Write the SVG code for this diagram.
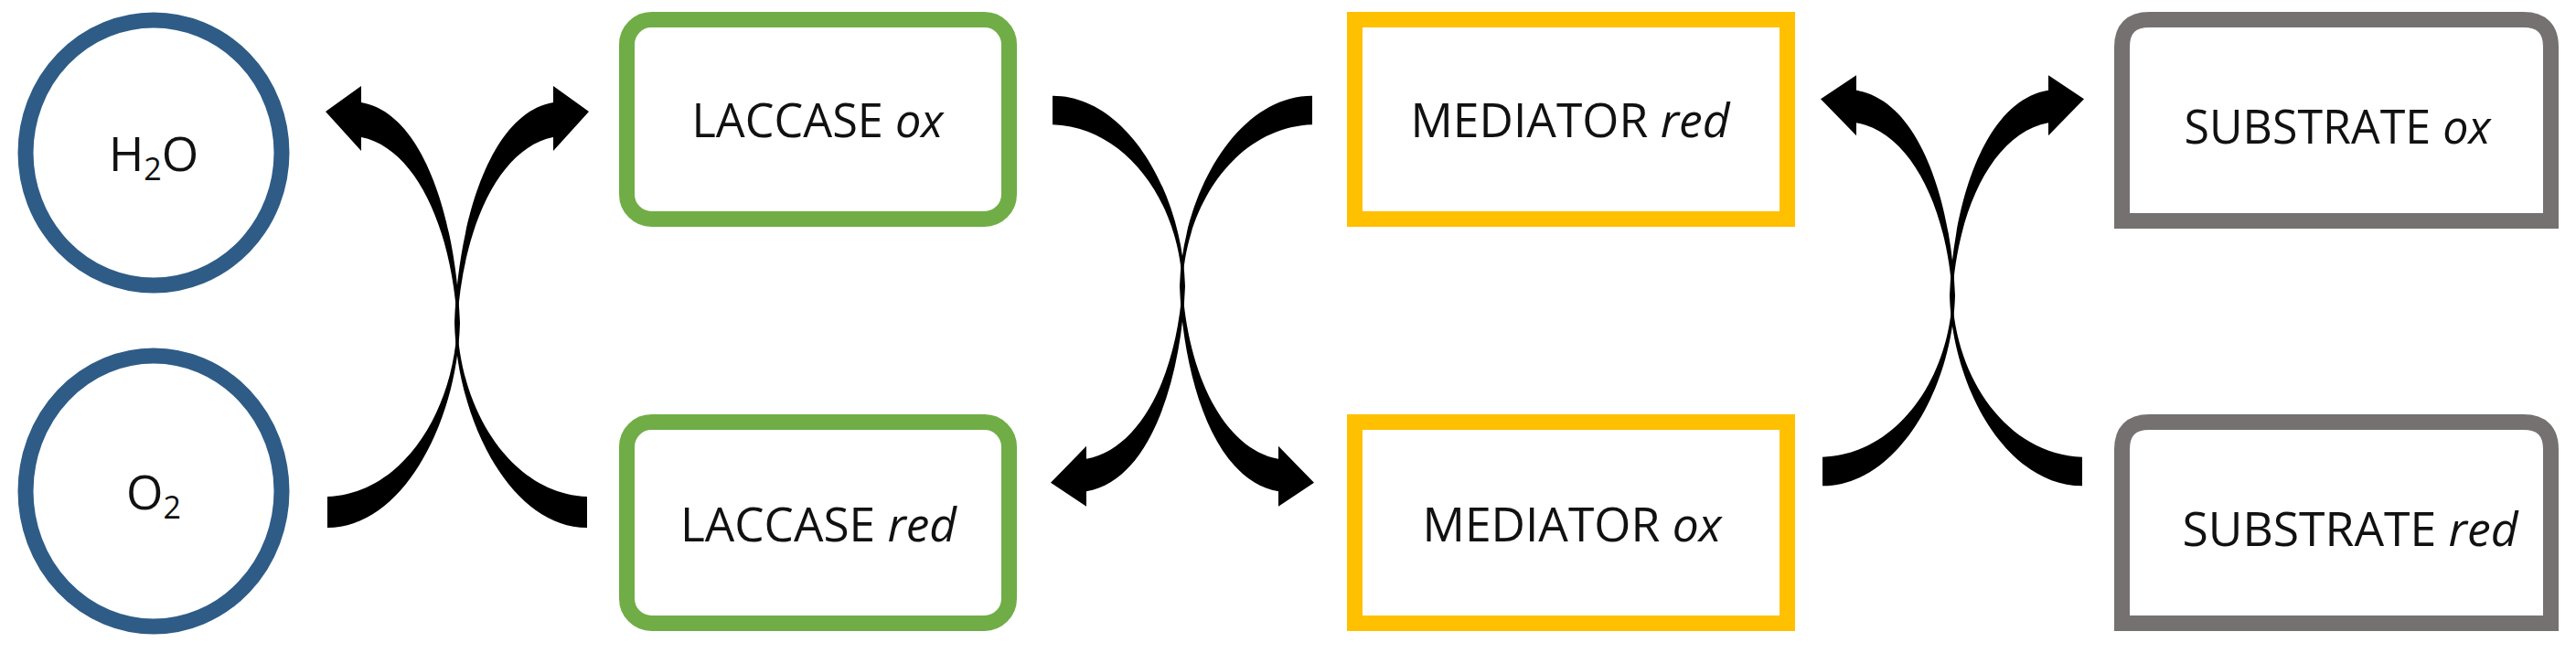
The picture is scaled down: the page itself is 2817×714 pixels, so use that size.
<svg xmlns="http://www.w3.org/2000/svg" xmlns:xlink="http://www.w3.org/1999/xlink" width="2817" height="714" viewBox="0 0 2817 714">
<style>
.t{font-family:"Open Sans","Liberation Sans",sans-serif;font-size:52px;fill:#111;text-anchor:middle}
.i{font-style:italic}
.c{fill:#fff;stroke:#2E5C87;stroke-width:17}
.g{fill:#fff;stroke:#70AD47;stroke-width:17}
.y{fill:#fff;stroke:#FFC000;stroke-width:17}
.s{fill:#fff;stroke:#767171;stroke-width:17}
.a{fill:#000}
</style>
<defs>
<path id="arc" class="a" d="M358,543 C440,540 497,450 500,353 C494,250 455,162 395,150 L395,165 L356,122 L395,94 L395,112 C465,124 499,245 503,353 C500,462 440,577 358,577 Z"/>
<g id="cross"><use xlink:href="#arc"/><use xlink:href="#arc" transform="translate(1000,0) scale(-1,1)"/></g>
</defs>
<rect width="2817" height="714" fill="#fff"/>
<g id="connectors">
<use xlink:href="#cross"/>
<use xlink:href="#cross" transform="translate(1293,313) scale(1,-0.93) translate(-500,-353)"/>
<use xlink:href="#cross" transform="translate(2135,323) scale(1,0.93) translate(-500,-353)"/>
</g>
<g id="h2o"><ellipse class="c" cx="168" cy="167" rx="140" ry="145"/><text class="t" x="168" y="187" font-size="50">H<tspan font-size="34" dy="10">2</tspan><tspan dy="-10">O</tspan></text></g>
<g id="o2"><ellipse class="c" cx="168" cy="537" rx="140" ry="148"/><text class="t" x="168" y="557" font-size="50">O<tspan font-size="34" dy="10">2</tspan></text></g>
<g id="laccase-ox"><rect class="g" x="685.5" y="21.5" width="418" height="218" rx="27"/><text class="t" x="894" y="150" textLength="275" lengthAdjust="spacingAndGlyphs">LACCASE <tspan class="i">ox</tspan></text></g>
<g id="laccase-red"><rect class="g" x="685.5" y="461.5" width="418" height="220" rx="27"/><text class="t" x="895" y="592" textLength="302" lengthAdjust="spacingAndGlyphs">LACCASE <tspan class="i">red</tspan></text></g>
<g id="mediator-red"><rect class="y" x="1481.5" y="21.5" width="473" height="218"/><text class="t" x="1717" y="150" textLength="349" lengthAdjust="spacingAndGlyphs">MEDIATOR <tspan class="i">red</tspan></text></g>
<g id="mediator-ox"><rect class="y" x="1481.5" y="461.5" width="473" height="220"/><text class="t" x="1719" y="592" textLength="327" lengthAdjust="spacingAndGlyphs">MEDIATOR <tspan class="i">ox</tspan></text></g>
<g id="substrate-ox"><path class="s" d="M2320.5,241.5 V51.5 Q2320.5,21.5 2350.5,21.5 H2759.5 Q2789.5,21.5 2789.5,51.5 V241.5 Z"/><text class="t" x="2556" y="157" textLength="335" lengthAdjust="spacingAndGlyphs">SUBSTRATE <tspan class="i">ox</tspan></text></g>
<g id="substrate-red"><path class="s" d="M2320.5,681.5 V491.5 Q2320.5,461.5 2350.5,461.5 H2759.5 Q2789.5,461.5 2789.5,491.5 V681.5 Z"/><text class="t" x="2570" y="597" textLength="367" lengthAdjust="spacingAndGlyphs">SUBSTRATE <tspan class="i">red</tspan></text></g>
</svg>
